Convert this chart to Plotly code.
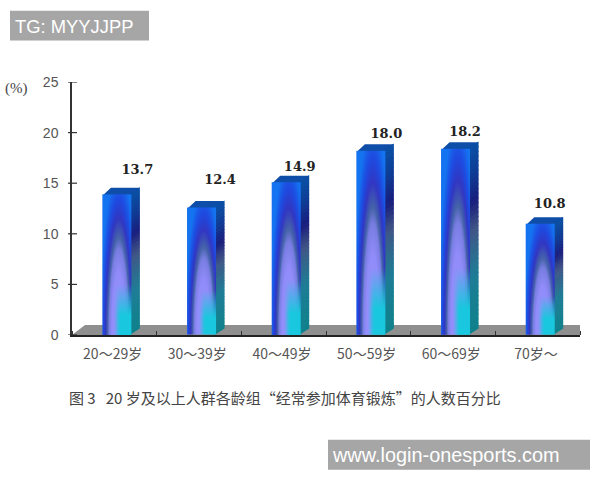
import numpy as np
import plotly.graph_objects as go

age_groups = ["20～29岁", "30～39岁", "40～49岁", "50～59岁", "60～69岁", "70岁～"]
percent = [13.7, 12.4, 14.9, 18.0, 18.2, 10.8]
value_labels = ["13.7", "12.4", "14.9", "18.0", "18.2", "10.8"]
y_ticks = [0, 5, 10, 15, 20, 25]
caption = "图 3   20 岁及以上人群各龄组“经常参加体育锻炼”的人数百分比"

W, H = 600, 480
L, R, T, B = 72, 580, 81.5, 335
PX_X = (R - L) / 6.0
PX_Y = (B - T) / 25.0
BAR_W = 29 / PX_X
BAR_SHIFT = 0.03
DEPTH_X, DEPTH_Y = 8.5 / PX_X, 6.5 / PX_Y
LIFT = 2 / PX_Y
OVERLAP_X, OVERLAP_Y = 1.5 / PX_X, 1.5 / PX_Y
label_dx_px = [20.5, 18.5, 13.5, 15.5, 9.5, 9.5]
label_dy_px = [26, 29, 17, 18, 18, 21]


def lerp_stops(t, stops):
    xs = [s[0] for s in stops]
    return np.stack([np.interp(t, xs, [s[1][k] for s in stops]) for k in range(3)], axis=-1)


FRONT = [(0.0, (150, 150, 250)), (0.42, (145, 140, 250)), (0.58, (120, 125, 225)),
         (0.66, (70, 100, 170)), (0.79, (50, 55, 195)), (0.92, (30, 75, 225)), (1.1, (20, 115, 240))]
SIDE = [(0.0, (15, 130, 140)), (0.3, (30, 125, 150)), (0.55, (65, 85, 135)),
        (0.7, (25, 30, 125)), (0.85, (15, 60, 150)), (1.0, (10, 80, 165))]


def front_face(ny, nx=29):
    u = (np.arange(nx) + 0.5) / nx
    v = (np.arange(ny) + 0.5) / ny
    uu, vv = np.meshgrid(u, v)
    r = np.sqrt(((uu - 0.58) / 0.58) ** 2 + (vv / 1.05) ** 2)
    rgb = lerp_stops(r, FRONT)
    cyan = np.clip((0.36 - vv) / 0.22, 0, 1) * np.clip((uu - 0.42) / 0.2, 0, 1)
    rgb = rgb * (1 - cyan[..., None]) + np.array([25, 200, 222]) * cyan[..., None]
    return rgb.astype(np.uint8)


fig = go.Figure()

xs = [i + BAR_SHIFT for i in range(len(percent))]
fig.add_trace(go.Bar(x=xs, y=percent, width=BAR_W,
                     marker=dict(color="rgba(30,90,230,0)", line=dict(width=0)),
                     hoverinfo="skip", showlegend=False))

shapes = []
shapes.append(dict(type="path", layer="below", xref="x", yref="y", line=dict(width=0), fillcolor="#8f8f8f",
                   path=f"M -0.5 0 L {-0.5 + 13 / PX_X} {10 / PX_Y} L {5.5 + 14 / PX_X} {10 / PX_Y} L 5.5 0 Z"))

for x, val in zip(xs, percent):
    top = val + LIFT
    ny = int(round(top * PX_Y))
    fig.add_trace(go.Image(z=front_face(ny), x0=x - BAR_W / 2 + BAR_W / 58, y0=0.5 / PX_Y,
                           dx=BAR_W / 29, dy=top / ny, hoverinfo="skip"))
    xr = x + BAR_W / 2
    xl = x - BAR_W / 2
    # top face, tucked slightly under the front so no pale seam shows
    shapes.append(dict(type="path", layer="below", xref="x", yref="y", line=dict(width=0), fillcolor="#0f4ea8",
                       path=f"M {xl} {top - OVERLAP_Y} L {xl + DEPTH_X} {top + DEPTH_Y} "
                            f"L {xr + DEPTH_X} {top + DEPTH_Y} L {xr} {top - OVERLAP_Y} Z"))
    # side face, shaded in slices
    n = 40
    for k in range(n):
        v0, v1 = k / n, (k + 1) / n + 0.005
        c = lerp_stops(np.array((k + 0.5) / n), SIDE).astype(int)
        shapes.append(dict(type="path", layer="below", xref="x", yref="y", line=dict(width=0),
                           fillcolor=f"rgb({c[0]},{c[1]},{c[2]})",
                           path=f"M {xr - OVERLAP_X} {v0 * top} L {xr + DEPTH_X} {v0 * top + DEPTH_Y} "
                                f"L {xr + DEPTH_X} {v1 * top + DEPTH_Y} L {xr - OVERLAP_X} {v1 * top} Z"))

fig.add_trace(go.Scatter(x=[x + d / PX_X for x, d in zip(xs, label_dx_px)],
                         y=[v + d / PX_Y for v, d in zip(percent, label_dy_px)], mode="text",
                         text=value_labels, textposition="middle center", hoverinfo="skip", showlegend=False,
                         textfont=dict(family="DejaVu Serif", size=13, color="#222222", weight="bold")))

for t in y_ticks:
    shapes.append(dict(type="line", xref="x domain", yref="y", x0=-4 / (R - L), x1=5 / (R - L), y0=t, y1=t,
                       line=dict(color="#333333", width=1.2)))

# watermarks
shapes.append(dict(type="rect", xref="paper", yref="paper", layer="above", line=dict(width=0), fillcolor="#a6a6a6",
                   x0=(10 - L) / (R - L), x1=(149 - L) / (R - L), y0=(B - 40) / (B - T), y1=(B - 10) / (B - T)))
shapes.append(dict(type="rect", xref="paper", yref="paper", layer="above", line=dict(width=0), fillcolor="#a6a6a6",
                   x0=(328 - L) / (R - L), x1=(590 - L) / (R - L), y0=(B - 470) / (B - T), y1=(B - 440) / (B - T)))


def note(text, px, py, size, color, family, anchor="left"):
    return dict(text=text, xref="paper", yref="paper", x=(px - L) / (R - L), y=(B - py) / (B - T),
                xanchor=anchor, yanchor="middle", showarrow=False, align="left",
                font=dict(size=size, color=color, family=family))


annotations = [
    note("TG: MYYJJPP", 13, 26, 18.4, "white", "Liberation Sans"),
    note("www.login-onesports.com", 330, 455, 19.9, "white", "Liberation Sans"),
    note("(%)", 16, 88, 15, "#444444", "Liberation Serif", "center"),
    note(caption, 67, 398, 15, "#444444", "Noto Sans CJK SC"),
]

fig.update_layout(
    width=W, height=H, margin=dict(l=L, r=W - R, t=T, b=H - B, pad=0), autosize=False,
    paper_bgcolor="white", plot_bgcolor="white", showlegend=False, barmode="overlay",
    shapes=shapes, annotations=annotations,
    xaxis=dict(range=[-0.5, 5.5], tickmode="array", tickvals=[i - 0.02 for i in range(6)], ticktext=age_groups,
               ticks="", showgrid=False, zeroline=False, showline=True, linecolor="#222222", linewidth=1.5,
               layer="below traces", ticklabelstandoff=5, tickangle=0,
               tickfont=dict(family="Noto Sans CJK SC", size=14, color="#555555"),
               minor=dict(ticks="inside", tick0=-0.5, dtick=1, ticklen=4, tickcolor="#333333", tickwidth=1, showgrid=False)),
    yaxis=dict(range=[0, 25], scaleanchor=False, tickmode="array", tickvals=y_ticks, ticks="", showgrid=False, zeroline=False,
               showline=True, linecolor="#333333", linewidth=1.5, layer="below traces", ticklabelstandoff=9,
               tickfont=dict(family="Liberation Sans", size=14, color="#555555")),
)

fig.write_html("out.html", post_script="document.body.style.margin='0';", config=dict(displayModeBar=False))
